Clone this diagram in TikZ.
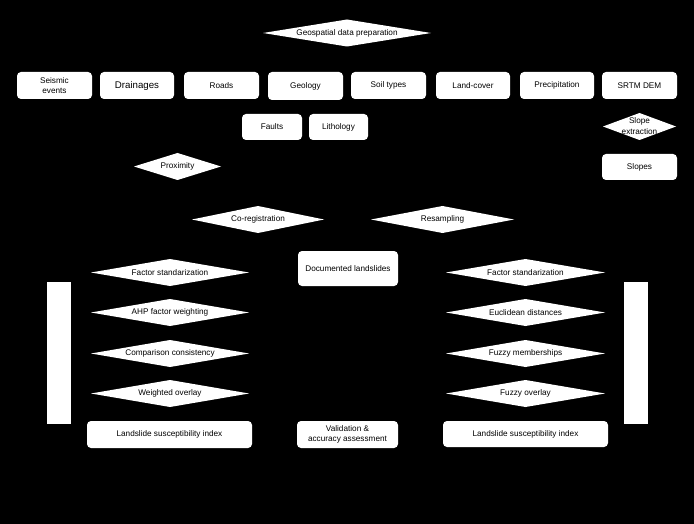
\documentclass[tikz,border=0pt]{standalone}
\usepackage{fontspec}
\setmainfont{Liberation Sans}
\usetikzlibrary{shapes.geometric}
\newcommand\fs{\fontsize{8.2}{10.5}\selectfont}
\newcommand\fsbig{\fontsize{9.7}{11}\selectfont}
\tikzset{
  box/.style={fill=white, rounded corners=4pt, inner sep=0pt, align=center, font=\fs, text=black},
  dia/.style={diamond, fill=white, inner sep=0pt, outer sep=0pt},
  txt/.style={inner sep=0pt, align=center, font=\fs, text=black},
  bar/.style={fill=white, inner sep=0pt, minimum width=24pt, minimum height=142pt}
}
\begin{document}
\begin{tikzpicture}[x=1pt,y=-1pt]
\fill[black] (0,0) rectangle (694,524);
\useasboundingbox (0,0) rectangle (694,524);

% top diamond
\node[dia, minimum width=168pt, minimum height=27pt] (geo) at (347,33) {};
\node[txt] (geo-t) at (geo) {Geospatial data preparation};

% data row
\node[box, minimum width=75pt, minimum height=27pt] (seis) at (54.5,85.5) {Seismic\\events};
\node[box, minimum width=74pt, minimum height=27pt, font=\fsbig] (drain) at (137,85.5) {Drainages};
\node[box, minimum width=75pt, minimum height=27pt] (roads) at (221.5,85.5) {Roads};
\node[box, minimum width=75pt, minimum height=28pt] (geol) at (305.5,86) {Geology};
\node[box, minimum width=75pt, minimum height=27pt] (soil) at (388.5,85.5) {Soil types};
\node[box, minimum width=74pt, minimum height=27pt] (land) at (473,85.5) {Land-cover};
\node[box, minimum width=74pt, minimum height=27pt] (precip) at (557,85.5) {Precipitation};
\node[box, minimum width=75pt, minimum height=27pt] (srtm) at (639.5,85.5) {SRTM DEM};

\node[box, minimum width=60pt, minimum height=26pt] (faults) at (272,127) {Faults};
\node[box, minimum width=59pt, minimum height=26pt] (litho) at (338.5,127) {Lithology};

\node[dia, minimum width=87pt, minimum height=27pt] (prox) at (177.5,166.5) {};
\node[txt] (prox-t) at (prox) {Proximity};

\node[dia, minimum width=73pt, minimum height=27pt] (slex) at (639.5,126.5) {};
\node[txt] (slex-t) at (639.5,126) {Slope\\extraction};
\node[box, minimum width=75pt, minimum height=26pt] (slopes) at (639.5,167) {Slopes};

\node[dia, minimum width=132pt, minimum height=27pt] (coreg) at (258,219.5) {};
\node[txt] (coreg-t) at (coreg) {Co-registration};
\node[dia, minimum width=143pt, minimum height=27pt] (resamp) at (442.5,219.5) {};
\node[txt] (resamp-t) at (resamp) {Resampling};

\node[box, minimum width=100pt, minimum height=35pt] (doc) at (348,268.5) {Documented landslides};

% left branch
\node[dia, minimum width=158pt, minimum height=27pt] (lfs) at (170,272.5) {};
\node[txt] (lfs-t) at (lfs) {Factor standarization};
\node[dia, minimum width=158pt, minimum height=27pt] (ahp) at (170,312.5) {};
\node[txt] (ahp-t) at (ahp) {AHP factor weighting};
\node[dia, minimum width=158pt, minimum height=27pt] (cons) at (170,353.5) {};
\node[txt] (cons-t) at (cons) {Comparison consistency};
\node[dia, minimum width=158pt, minimum height=27pt] (wov) at (170,393.5) {};
\node[txt] (wov-t) at (wov) {Weighted overlay};
\node[box, minimum width=165pt, minimum height=27pt] (lsil) at (169.5,434.5) {Landslide susceptibility index};
\node[bar] (barl) at (59,353) {};

% right branch
\node[dia, minimum width=159pt, minimum height=27pt] (rfs) at (525.5,272.5) {};
\node[txt] (rfs-t) at (rfs) {Factor standarization};
\node[dia, minimum width=159pt, minimum height=27pt] (eucl) at (525.5,312.5) {};
\node[txt] (eucl-t) at (eucl) {Euclidean distances};
\node[dia, minimum width=159pt, minimum height=27pt] (fmem) at (525.5,353.5) {};
\node[txt] (fmem-t) at (fmem) {Fuzzy memberships};
\node[dia, minimum width=159pt, minimum height=27pt] (fov) at (525.5,393.5) {};
\node[txt] (fov-t) at (fov) {Fuzzy overlay};
\node[box, minimum width=165pt, minimum height=26pt] (lsir) at (525.5,434) {Landslide susceptibility index};
\node[bar] (barr) at (636,353) {};

\node[box, minimum width=101pt, minimum height=27pt] (valid) at (347.5,434.5) {Validation \&\\accuracy assessment};
\end{tikzpicture}
\end{document}
